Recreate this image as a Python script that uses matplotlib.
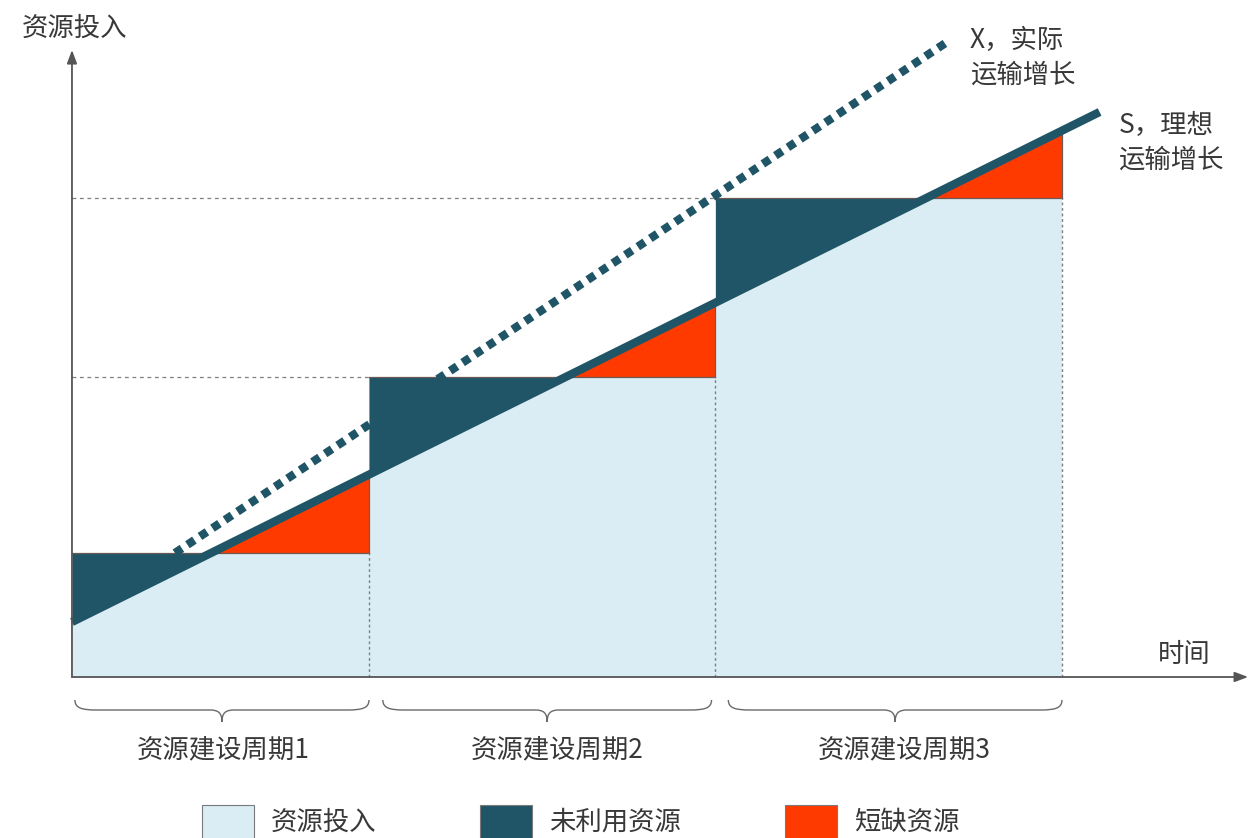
import numpy as np
import matplotlib
matplotlib.use("Agg")
import matplotlib.pyplot as plt
from matplotlib.path import Path
from matplotlib.patches import PathPatch, Rectangle

plt.rcParams['font.family'] = ['Noto Sans CJK SC', 'DejaVu Sans']

# ---------------- data ----------------
period_edges = [0.0, 3.0, 6.5, 10.0]          # time boundaries of construction periods
levels = [1.24, 3.0, 4.79]                     # resource input level in each period
ideal_x = [0.0, 10.38]                         # S line (ideal transport growth)
ideal_y = [0.55, 5.65]
actual_x = [1.04, 8.87]                        # X line (actual transport growth)
actual_y = [1.24, 6.37]
period_labels = ['资源建设周期1', '资源建设周期2', '资源建设周期3']
legend_labels = ['资源投入', '未利用资源', '短缺资源']
ideal_label = ['S，理想', '运输增长']
actual_label = ['X，实际', '运输增长']
y_label = '资源投入'
x_label = '时间'

# ---------------- style ----------------
c_light = '#daedf4'
c_dark = '#1f5566'
c_red = '#ff3a00'
c_grey = '#7f7f7f'
c_text = '#383838'
fs = 19

fig = plt.figure(figsize=(12.48, 8.38), dpi=100)
ax = fig.add_axes([0, 0, 1, 1])
ax.set_xlim(-0.727, 11.879)
ax.set_ylim(-1.61, 6.77)
ax.axis('off')

s_slope = (ideal_y[1] - ideal_y[0]) / (ideal_x[1] - ideal_x[0])
def s_at(x):
    return ideal_y[0] + s_slope * (np.asarray(x) - ideal_x[0])

for i, lev in enumerate(levels):
    a, b = period_edges[i], period_edges[i + 1]
    xs = np.linspace(a, b, 400)
    s = s_at(xs)
    ax.fill_between(xs, 0, lev, color=c_light, lw=0, zorder=1)
    ax.fill_between(xs, s, lev, where=s <= lev, interpolate=True, color=c_dark, lw=0, zorder=2)
    ax.fill_between(xs, lev, s, where=s >= lev, interpolate=True, color=c_red, lw=0, zorder=2)
    # thin outline on step top and right edge of shortage triangle
    ax.plot([a, b], [lev, lev], color='#6b5a55', lw=0.9, zorder=3)
    ax.plot([b, b], [lev, float(s_at(b))], color='#6b5a55', lw=0.9, zorder=3)
    # vertical dotted separator below level
    ax.plot([b, b], [0, lev], color=c_grey, lw=1.0, ls=(0, (2, 2)), zorder=3)
    # horizontal dashed guide from y-axis
    if i > 0:
        ax.plot([0, a], [lev, lev], color=c_grey, lw=0.9, ls=(0, (3, 3)), zorder=0.5)

# S line
ax.plot(ideal_x, ideal_y, color=c_dark, lw=6, solid_capstyle='butt', zorder=4)
# X dotted line
ax.plot(actual_x, actual_y, color=c_dark, lw=6, dashes=(1, 0.8), dash_capstyle='butt', zorder=4)

# axes arrows
ax.annotate('', xy=(0, 6.27), xytext=(0, 0), zorder=5,
            arrowprops=dict(arrowstyle='-|>,head_length=0.8,head_width=0.3', color='#555555', lw=1.3, shrinkA=0, shrinkB=0))
ax.annotate('', xy=(11.88, 0), xytext=(0, 0), zorder=5,
            arrowprops=dict(arrowstyle='-|>,head_length=0.8,head_width=0.3', color='#555555', lw=1.3, shrinkA=0, shrinkB=0))

ax.text(0.03, 6.49, y_label, fontsize=fs, color=c_text, ha='center', va='center')
ax.text(11.24, 0.23, x_label, fontsize=fs, color=c_text, ha='center', va='center')

ax.text(9.07, 6.37, actual_label[0], fontsize=fs, color=c_text, ha='left', va='center')
ax.text(9.07, 6.02, actual_label[1], fontsize=fs, color=c_text, ha='left', va='center')
ax.text(10.57, 5.52, ideal_label[0], fontsize=fs, color=c_text, ha='left', va='center')
ax.text(10.57, 5.17, ideal_label[1], fontsize=fs, color=c_text, ha='left', va='center')

# braces
def brace(x0, x1, ytop):
    xm = (x0 + x1) / 2
    yb = ytop - 0.10      # flat arm level
    ytip = ytop - 0.22    # tip
    r = 0.22              # end curve width
    r2 = 0.12             # tip curve width
    verts = [(x0, ytop), (x0, yb + 0.02), (x0 + r * 0.3, yb), (x0 + r, yb),
             (xm - r2, yb),
             (xm - r2 * 0.3, yb), (xm, yb - 0.03), (xm, ytip),
             (xm, yb - 0.03), (xm + r2 * 0.3, yb), (xm + r2, yb),
             (x1 - r, yb),
             (x1 - r * 0.3, yb), (x1, yb + 0.02), (x1, ytop)]
    codes = [Path.MOVETO, Path.CURVE4, Path.CURVE4, Path.CURVE4,
             Path.LINETO,
             Path.CURVE4, Path.CURVE4, Path.CURVE4,
             Path.CURVE4, Path.CURVE4, Path.CURVE4,
             Path.LINETO,
             Path.CURVE4, Path.CURVE4, Path.CURVE4]
    ax.add_patch(PathPatch(Path(verts, codes), fill=False, edgecolor='#6a6a6a', lw=1.0))

brace_pad = [(0.03, 0.0), (0.14, 0.04), (0.13, 0.0)]
label_shift = [0.025, 0.15, 0.16]
for i in range(3):
    a, b = period_edges[i], period_edges[i + 1]
    brace(a + brace_pad[i][0], b - brace_pad[i][1], -0.23)
    ax.text((a + b) / 2 + label_shift[i], -0.73, period_labels[i],
            fontsize=fs, color=c_text, ha='center', va='center')

# legend (drawn manually)
leg_colors = [c_light, c_dark, c_red]
leg_x = [1.31, 4.12, 7.2]
for lx, col, lab in zip(leg_x, leg_colors, legend_labels):
    ax.add_patch(Rectangle((lx, -1.72), 0.53, 0.44, facecolor=col, edgecolor='#7a7a7a', lw=0.8, clip_on=False))
    ax.text(lx + 0.7, -1.45, lab, fontsize=fs, color=c_text, ha='left', va='center')

fig.savefig('out.png', dpi=100)
